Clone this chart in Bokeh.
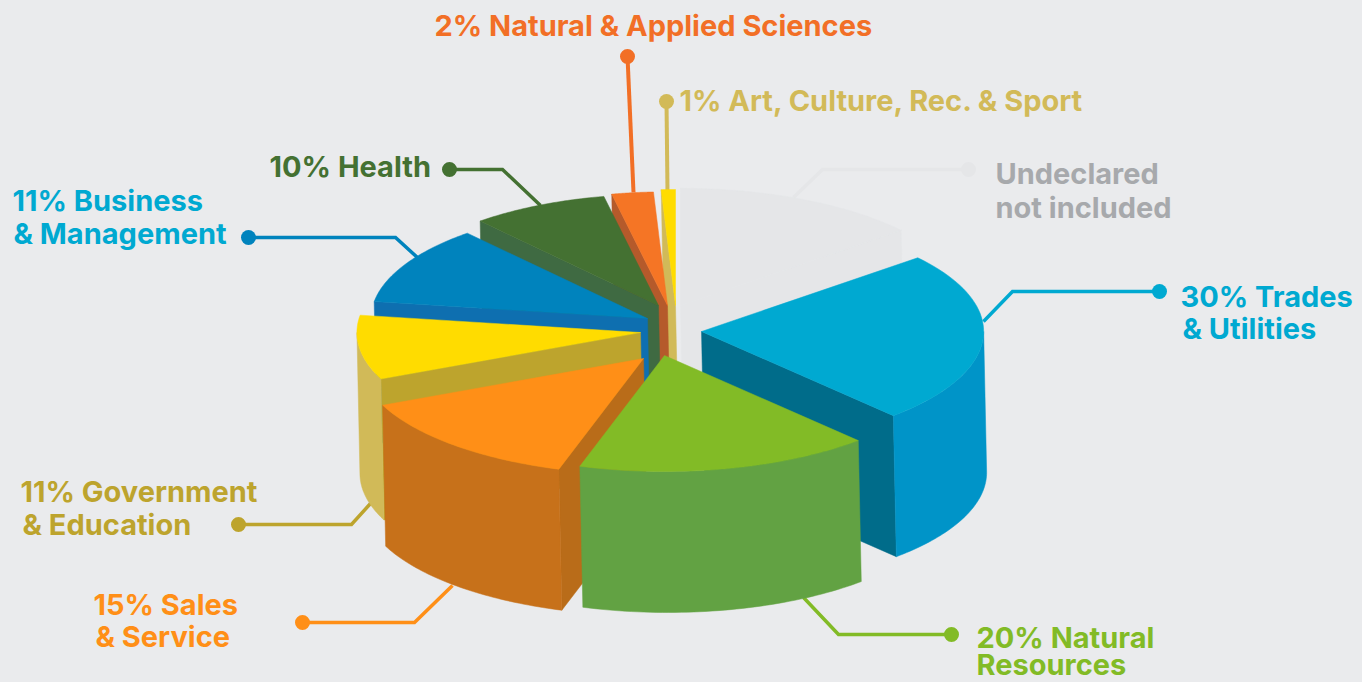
import math
from bokeh.plotting import figure
from bokeh.models import Range1d
from bokeh.embed import file_html
from bokeh.resources import INLINE
from bokeh.core.properties import value

# ---- data ----
categories = ["Undeclared", "Trades & Utilities", "Natural Resources", "Sales & Service",
              "Government & Education", "Business & Management", "Health",
              "Natural & Applied Sciences", "Art, Culture, Rec. & Sport"]
reported_pct = [None, 30, 20, 15, 11, 11, 10, 2, 1]
# share of the circle each wedge takes as it is drawn (the artwork is not to scale)
drawn_share = [13.9, 24.2, 16.7, 13.6, 9.0, 11.3, 8.1, 2.4, 0.8]

# ---- styles and layout ----
top_col = ["#E5E6E8", "#00A9D1", "#82BB26", "#FF8F17", "#FFDC00", "#0083BD", "#447132", "#F57525", "#FFDC00"]
wall_col = ["#E5E6E8", "#006C8A", "#82BB26", "#B96C19", "#BDA42D", "#0E6FB0", "#3F6A42", "#B55A2B", "#D1BA58"]
rim_col = ["#E5E6E8", "#0094C8", "#62A243", "#C7711A", "#D1BA58", "#0E6FB0", "#3F6A42", "#B55A2B", "#D1BA58"]
HUB = (675, 305)
explode = [(5, 0), (26, 26), (-11, 50), (-32, 53), (-35, 27), (-28, 13), (-17, 0), (-8, 0), (0, 0)]
radius_scale = [1.01, 0.99, 1.0, 1.0, 0.995, 0.97, 0.96, 0.98, 1.0]
RX, RY, DEPTH, SPREAD = 285, 116, 141, 3
draw_order = [0, 8, 7, 6, 5, 4, 1, 3, 2]

leaders = [
    ("#E5E6E8", 3.5, [968, 822, 793], [169, 169, 197]),
    ("#00A9D1", 3.5, [1159, 1012, 983], [291, 291, 321]),
    ("#82BB26", 3.5, [951, 838, 803], [634, 634, 597]),
    ("#FF8F17", 3.5, [302, 414, 452], [622, 622, 585]),
    ("#BDA42D", 3.5, [238, 351, 370], [524, 524, 503]),
    ("#0083BD", 3.5, [248, 395, 418], [237, 237, 258]),
    ("#447132", 3.5, [449, 502, 540], [169, 169, 205]),
    ("#F26F26", 4, [627, 633], [56, 192]),
    ("#D2BA58", 4, [666, 667], [101, 192]),
]
labels = [
    ("2% Natural & Applied Sciences", 434, 25, "#F26F26"),
    ("1% Art, Culture, Rec. & Sport", 679, 100, "#D2BA58"),
    ("10% Health", 269, 166, "#447132"),
    ("11% Business", 12, 200, "#00A9D1"),
    ("& Management", 13, 233, "#00A9D1"),
    ("Undeclared", 995, 173, "#A7A9AC"),
    ("not included", 995, 207, "#A7A9AC"),
    ("30% Trades", 1180, 296, "#00A9D1"),
    ("& Utilities", 1182, 328, "#00A9D1"),
    ("20% Natural", 976, 637, "#82BB26"),
    ("Resources", 976, 664, "#82BB26"),
    ("15% Sales", 93, 604, "#FF8F17"),
    ("& Service", 95, 636, "#FF8F17"),
    ("11% Government", 20, 491, "#BDA42D"),
    ("& Education", 22, 524, "#BDA42D"),
]

p = figure(width=1362, height=682, x_range=Range1d(0, 1362), y_range=Range1d(682, 0),
           output_backend="svg", toolbar_location=None, min_border=0,
           background_fill_color="#EAEBED", border_fill_color="#EAEBED", outline_line_color=None,
           styles={"background-color": "#EAEBED"})
p.axis.visible = False
p.grid.visible = False

for col, lw, xs, ys in leaders:
    p.line(xs, ys, line_color=col, line_width=lw, line_join="miter")
    p.scatter([xs[0]], [ys[0]], size=15, fill_color=col, line_color=col, line_width=0)


def rim(tip, a0, a1, k, n=48):
    pts = [a0 + (a1 - a0) * i / n for i in range(n + 1)]
    return [(tip[0] + k * RX * math.cos(math.radians(a)), tip[1] + k * RY * math.sin(math.radians(a))) for a in pts]


def drop(pts):
    return [(x + SPREAD, y + DEPTH) for x, y in pts]


edges = [-90.0]
for s in drawn_share:
    edges.append(edges[-1] + s * 3.6)

fx, fy, fc = [], [], []


def add(pts, col):
    fx.append([q[0] for q in pts])
    fy.append([q[1] for q in pts])
    fc.append(col)


for i in draw_order:
    a0, a1 = edges[i], edges[i + 1]
    k = radius_scale[i]
    tip = (HUB[0] + explode[i][0], HUB[1] + explode[i][1])
    arc = rim(tip, a0, a1, k)
    if math.cos(math.radians(a0)) < 0:
        add([tip, arc[0]] + drop([arc[0], tip]), wall_col[i])
    if math.cos(math.radians(a1)) > 0:
        add([tip, arc[-1]] + drop([arc[-1], tip]), wall_col[i])
    lo, hi = max(a0, 0.0), min(a1, 180.0)
    if hi > lo:
        front = rim(tip, lo, hi, k)
        add(front + drop(front)[::-1], rim_col[i])
    add([tip] + arc, top_col[i])

p.patches(fx, fy, fill_color=fc, line_color=fc, line_width=0.5)

for text, x, y, col in labels:
    p.text([x], [y], text=[text], text_color=col, text_font=value("Inter"), text_font_style="bold",
           text_font_size="29px", text_baseline="middle", text_align="left")

open("out.html", "w").write(file_html(p, INLINE))
